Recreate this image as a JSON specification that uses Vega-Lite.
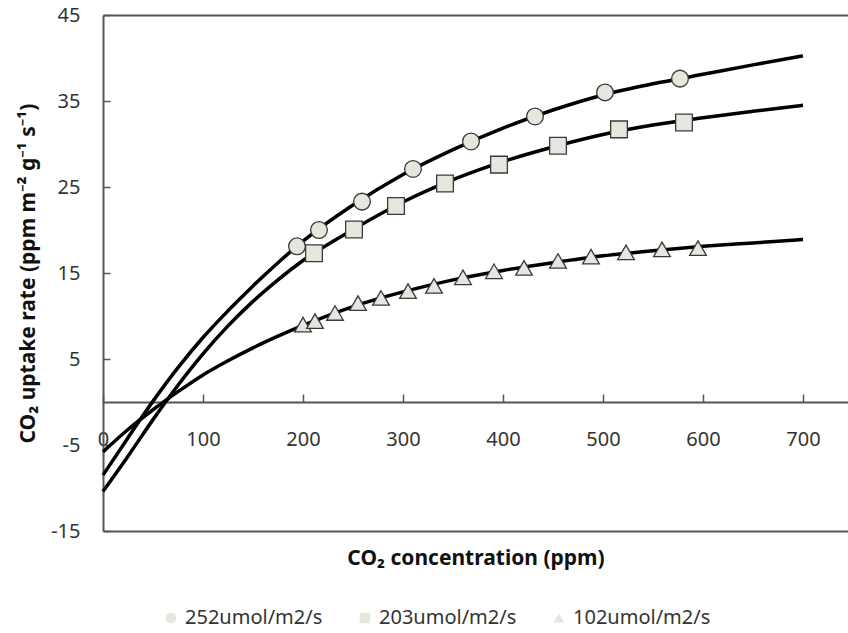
{
  "$schema": "https://vega.github.io/schema/vega-lite/v6.json",
  "autosize": "none",
  "width": 745,
  "height": 516,
  "padding": {"left": 103, "top": 15, "right": 0, "bottom": 102},
  "background": "white",
  "config": {"view": {"stroke": null}, "font": "Noto Sans", "legend": {"symbolStrokeColor": "#222222", "symbolStrokeWidth": 1.5, "symbolFillColor": "#eeeeea"}},
  "datasets": {
    "curves": [
      {"series": "252umol/m2/s", "x": 0, "y": -8.5},
      {"series": "252umol/m2/s", "x": 25, "y": -4.15},
      {"series": "252umol/m2/s", "x": 50, "y": 0.1},
      {"series": "252umol/m2/s", "x": 75, "y": 4.0},
      {"series": "252umol/m2/s", "x": 100, "y": 7.5},
      {"series": "252umol/m2/s", "x": 125, "y": 10.6},
      {"series": "252umol/m2/s", "x": 150, "y": 13.5},
      {"series": "252umol/m2/s", "x": 175, "y": 16.2},
      {"series": "252umol/m2/s", "x": 200, "y": 18.7},
      {"series": "252umol/m2/s", "x": 250, "y": 22.9},
      {"series": "252umol/m2/s", "x": 300, "y": 26.45},
      {"series": "252umol/m2/s", "x": 350, "y": 29.35},
      {"series": "252umol/m2/s", "x": 400, "y": 31.85},
      {"series": "252umol/m2/s", "x": 450, "y": 33.95},
      {"series": "252umol/m2/s", "x": 500, "y": 35.7},
      {"series": "252umol/m2/s", "x": 550, "y": 37.0},
      {"series": "252umol/m2/s", "x": 600, "y": 38.1},
      {"series": "252umol/m2/s", "x": 650, "y": 39.2},
      {"series": "252umol/m2/s", "x": 700, "y": 40.25},
      {"series": "203umol/m2/s", "x": 0, "y": -10.4},
      {"series": "203umol/m2/s", "x": 25, "y": -6.3},
      {"series": "203umol/m2/s", "x": 50, "y": -2.05},
      {"series": "203umol/m2/s", "x": 75, "y": 1.95},
      {"series": "203umol/m2/s", "x": 100, "y": 5.6},
      {"series": "203umol/m2/s", "x": 125, "y": 8.85},
      {"series": "203umol/m2/s", "x": 150, "y": 11.7},
      {"series": "203umol/m2/s", "x": 175, "y": 14.2},
      {"series": "203umol/m2/s", "x": 200, "y": 16.45},
      {"series": "203umol/m2/s", "x": 250, "y": 20.05},
      {"series": "203umol/m2/s", "x": 300, "y": 23.25},
      {"series": "203umol/m2/s", "x": 350, "y": 25.85},
      {"series": "203umol/m2/s", "x": 400, "y": 27.95},
      {"series": "203umol/m2/s", "x": 450, "y": 29.65},
      {"series": "203umol/m2/s", "x": 500, "y": 31.1},
      {"series": "203umol/m2/s", "x": 550, "y": 32.2},
      {"series": "203umol/m2/s", "x": 600, "y": 33.05},
      {"series": "203umol/m2/s", "x": 650, "y": 33.8},
      {"series": "203umol/m2/s", "x": 700, "y": 34.5},
      {"series": "102umol/m2/s", "x": 0, "y": -5.8},
      {"series": "102umol/m2/s", "x": 25, "y": -3.2},
      {"series": "102umol/m2/s", "x": 50, "y": -0.9},
      {"series": "102umol/m2/s", "x": 75, "y": 1.2},
      {"series": "102umol/m2/s", "x": 100, "y": 3.15},
      {"series": "102umol/m2/s", "x": 125, "y": 4.8},
      {"series": "102umol/m2/s", "x": 150, "y": 6.3},
      {"series": "102umol/m2/s", "x": 175, "y": 7.65},
      {"series": "102umol/m2/s", "x": 200, "y": 8.9},
      {"series": "102umol/m2/s", "x": 250, "y": 11.1},
      {"series": "102umol/m2/s", "x": 300, "y": 12.8},
      {"series": "102umol/m2/s", "x": 350, "y": 14.2},
      {"series": "102umol/m2/s", "x": 400, "y": 15.3},
      {"series": "102umol/m2/s", "x": 450, "y": 16.2},
      {"series": "102umol/m2/s", "x": 500, "y": 17.0},
      {"series": "102umol/m2/s", "x": 550, "y": 17.6},
      {"series": "102umol/m2/s", "x": 600, "y": 18.1},
      {"series": "102umol/m2/s", "x": 650, "y": 18.5},
      {"series": "102umol/m2/s", "x": 700, "y": 18.9}
    ],
    "obs": [
      {"series": "252umol/m2/s", "x": 194, "y": 18.1},
      {"series": "252umol/m2/s", "x": 216, "y": 20.0},
      {"series": "252umol/m2/s", "x": 259, "y": 23.3},
      {"series": "252umol/m2/s", "x": 310, "y": 27.1},
      {"series": "252umol/m2/s", "x": 368, "y": 30.3},
      {"series": "252umol/m2/s", "x": 432, "y": 33.2},
      {"series": "252umol/m2/s", "x": 502, "y": 36.0},
      {"series": "252umol/m2/s", "x": 577, "y": 37.6},
      {"series": "203umol/m2/s", "x": 211, "y": 17.3},
      {"series": "203umol/m2/s", "x": 251, "y": 20.05},
      {"series": "203umol/m2/s", "x": 293, "y": 22.8},
      {"series": "203umol/m2/s", "x": 342, "y": 25.4},
      {"series": "203umol/m2/s", "x": 396, "y": 27.6},
      {"series": "203umol/m2/s", "x": 455, "y": 29.8},
      {"series": "203umol/m2/s", "x": 516, "y": 31.7},
      {"series": "203umol/m2/s", "x": 581, "y": 32.5},
      {"series": "102umol/m2/s", "x": 200, "y": 9.0},
      {"series": "102umol/m2/s", "x": 212, "y": 9.4},
      {"series": "102umol/m2/s", "x": 232, "y": 10.35},
      {"series": "102umol/m2/s", "x": 255, "y": 11.5},
      {"series": "102umol/m2/s", "x": 278, "y": 12.1},
      {"series": "102umol/m2/s", "x": 305, "y": 12.9},
      {"series": "102umol/m2/s", "x": 331, "y": 13.5},
      {"series": "102umol/m2/s", "x": 360, "y": 14.5},
      {"series": "102umol/m2/s", "x": 391, "y": 15.2},
      {"series": "102umol/m2/s", "x": 421, "y": 15.6},
      {"series": "102umol/m2/s", "x": 455, "y": 16.4},
      {"series": "102umol/m2/s", "x": 488, "y": 16.9},
      {"series": "102umol/m2/s", "x": 523, "y": 17.4},
      {"series": "102umol/m2/s", "x": 559, "y": 17.75},
      {"series": "102umol/m2/s", "x": 595, "y": 17.9}
    ]
  },
  "encoding": {
    "x": {
      "field": "x", "type": "quantitative",
      "scale": {"domain": [0, 745], "nice": false, "zero": false},
      "axis": {
        "title": "CO₂ concentration (ppm)",
        "values": [0, 100, 200, 300, 400, 500, 600, 700],
        "offset": -129,
        "tickSize": -8, "tickWidth": 1.5, "tickColor": "#555",
        "domainColor": "#555", "domainWidth": 2,
        "labelPadding": 35, "labelFontSize": 20, "labelColor": "#333",
        "labelFlush": false, "labelOverlap": false, "grid": false,
        "labelExpr": "'' + datum.value",
        "titleFontSize": 21, "titleFontWeight": "bold", "titleColor": "#111",
        "titleY": 156, "titleBaseline": "middle"
      }
    },
    "y": {
      "field": "y", "type": "quantitative",
      "scale": {"domain": [-15, 45], "nice": false, "zero": false},
      "axis": {
        "title": "CO₂ uptake rate (ppm m⁻² g⁻¹ s⁻¹)",
        "values": [-15, -5, 5, 15, 25, 35, 45],
        "tickSize": -7, "tickWidth": 1.5, "tickColor": "#555",
        "domainColor": "#555", "domainWidth": 2,
        "labelPadding": 30, "labelFontSize": 20, "labelColor": "#333",
        "labelFlush": false, "labelOverlap": false,
        "labelExpr": "'' + datum.value",
        "grid": true, "gridColor": "#555", "gridWidth": 2,
        "gridOpacity": {"condition": {"test": "datum.value === 45 || datum.value === -15", "value": 1}, "value": 0},
        "titleFontSize": 21, "titleFontWeight": "bold", "titleColor": "#111",
        "titleX": -75, "titleY": 258, "titleBaseline": "middle", "titleAlign": "center", "titleAngle": -90
      }
    }
  },
  "layer": [
    {
      "data": {"name": "curves"},
      "mark": {"type": "line", "color": "black", "strokeWidth": 3.5, "interpolate": "monotone"},
      "encoding": {"detail": {"field": "series", "type": "nominal"}}
    },
    {
      "data": {"name": "obs"},
      "mark": {"type": "point", "fill": "#e6e6de", "fillOpacity": 1, "stroke": "#3a3a3a", "strokeWidth": 1.3, "opacity": 1, "size": 280},
      "encoding": {
        "shape": {
          "field": "series", "type": "nominal",
          "scale": {"domain": ["252umol/m2/s", "203umol/m2/s", "102umol/m2/s"], "range": ["circle", "square", "triangle-up"]},
          "legend": {
            "title": null, "orient": "none", "direction": "horizontal",
            "legendX": 58, "legendY": 593,
            "symbolSize": 110,
            "labelFontSize": 20, "labelColor": "#333", "labelOffset": 4, "columnPadding": 32, "labelLimit": 300,
            "encode": {
              "symbols": {
                "enter": {
                  "stroke": {"value": "#222222"},
                  "strokeWidth": {"value": 1.5}
                },
                "update": {
                  "stroke": {"value": "#222222"},
                  "strokeWidth": {"value": 1.5},
                  "strokeOpacity": {"value": 1},
                  "fill": {"value": "#eeeeea"},
                  "fillOpacity": {"value": 1},
                  "opacity": {"value": 1}
                }
              }
            }
          }
        }
      }
    }
  ]
}
